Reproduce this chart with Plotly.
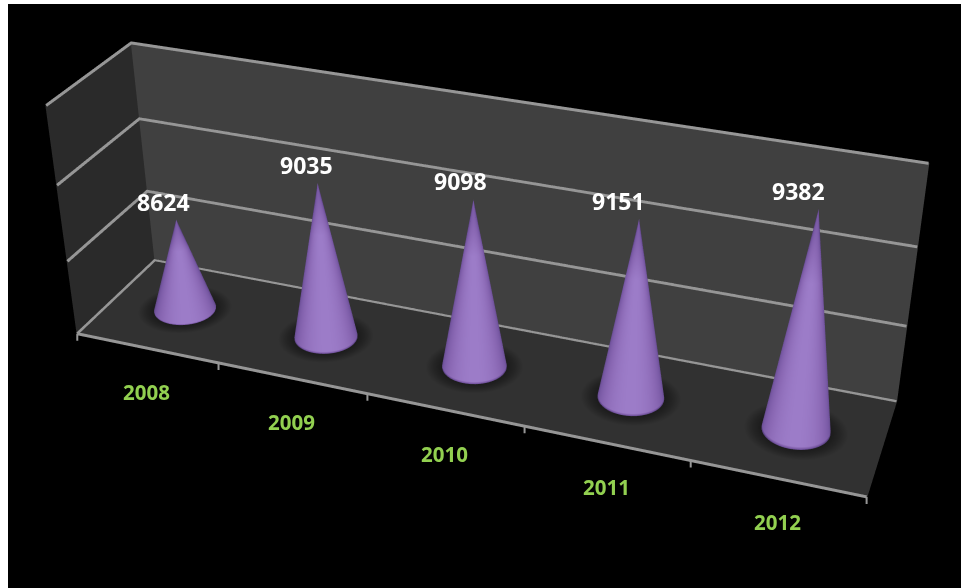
import numpy as np
import plotly.graph_objects as go

years = [2008, 2009, 2010, 2011, 2012]
values = [8624, 9035, 9098, 9151, 9382]
z_ticks = [8000, 8500, 9000, 9500]
value_shift = [-13, -11, -13, -21, -20]

# Box proportions and viewpoint of the 3D scene
ASPECT = dict(x=3.0, y=0.6026, z=0.9505)
EYE = np.array([2.0027, -5.3134, 3.1975])
CENTER = np.array([-1.3765, 3.8362, -2.5908])
UP = np.array([-0.1742, 0.4797, 0.86])
FOVY = 0.3159

X0, X1, Y0, Y1 = -0.5, 4.5, -1.0, 1.0
Z0, Z1 = z_ticks[0], z_ticks[-1]
PAD = 0.004
RX = 0.2
RY = RX * (ASPECT["x"] / 5) / (ASPECT["y"] / 2)
GRID = "#969696"
FLOOR = "#313131"

fig = go.Figure()
flat = dict(ambient=1, diffuse=0, specular=0, roughness=1, fresnel=0)
cone_scale = [[0, "#36264f"], [.45, "#5a4280"], [.62, "#7657a2"], [.82, "#8b69b5"], [1, "#9c7cc8"]]
shadow_scale = [[0, "#141414"], [.6, "#181818"], [.82, "#242424"], [1, FLOOR]]
theta = np.linspace(0, 2 * np.pi, 97)
rows = np.array([0.0, 0.015, 0.7, 1.0])
row_shade = np.array([0.45, 1.0, 1.0, 0.6])

for i, v in enumerate(values):
    a0 = np.arctan2(EYE[1], EYE[0] - (i - 2) * ASPECT["x"] / 5)
    T, R = np.meshgrid(theta, np.linspace(0, 1.5, 13))
    fig.add_trace(go.Surface(x=i + RX * R * np.cos(T), y=RY * R * np.sin(T), z=np.full(T.shape, Z0 + 2.0),
        surfacecolor=R, colorscale=shadow_scale, cmin=0, cmax=1.5, showscale=False, lighting=flat, hoverinfo="skip"))
    T, S = np.meshgrid(theta, rows)
    shade = (np.cos(T - a0) + 1) * row_shade[:, None] - 1
    fig.add_trace(go.Surface(x=i + RX * (1 - S) * np.cos(T), y=RY * (1 - S) * np.sin(T), z=Z0 + (v - Z0) * S,
        surfacecolor=shade, colorscale=cone_scale, cmin=-1, cmax=1, showscale=False, lighting=flat, hoverinfo="skip"))

# Gridlines around the two walls, and the front edge of the floor
for z in z_ticks:
    fig.add_trace(go.Scatter3d(x=[X0, X0, X1], y=[Y0, Y1, Y1], z=[z, z, z], mode="lines",
        line=dict(color=GRID, width=6), hoverinfo="skip", showlegend=False))
fig.add_trace(go.Scatter3d(x=[X0, X1], y=[Y0, Y0], z=[Z0, Z0], mode="lines",
    line=dict(color=GRID, width=6), hoverinfo="skip", showlegend=False))

notes = []
for i, (yr, v) in enumerate(zip(years, values)):
    notes.append(dict(x=i, y=0, z=v, text="<b>%d</b>" % v, showarrow=False, xshift=value_shift[i], yshift=18,
                      font=dict(family="Open Sans", size=23, color="white")))
    notes.append(dict(x=i, y=Y0, z=Z0, text="<b>%d</b>" % yr, showarrow=False, yshift=-44,
                      font=dict(family="Open Sans", size=20.5, color="#92d050")))
# Category boundary ticks hang straight down from the floor edge
for k in range(len(years) + 1):
    notes.append(dict(x=k - .5, y=Y0, z=Z0, text=" ", showarrow=True, ax=0, ay=8, arrowhead=0, arrowwidth=2,
                      arrowcolor=GRID, standoff=0, borderpad=0, font=dict(size=1)))

plain = dict(showgrid=False, showticklabels=False, title="", zeroline=False, showspikes=False, showline=False, ticks="")
fig.update_layout(width=961, height=588, margin=dict(l=0, r=0, t=0, b=0), paper_bgcolor="white", showlegend=False,
    scene=dict(domain=dict(x=[8 / 961, 1], y=[0, 1 - 4 / 588]), bgcolor="black",
        xaxis=dict(plain, range=[X0 - PAD, X1 + PAD], backgroundcolor="#2a2a2a", showbackground=True),
        yaxis=dict(plain, range=[Y0 - PAD, Y1 + PAD], backgroundcolor="#404040", showbackground=True),
        zaxis=dict(plain, range=[Z0 - 1, Z1 + 1], backgroundcolor=FLOOR, showbackground=True),
        aspectmode="manual", aspectratio=ASPECT, annotations=notes,
        camera=dict(eye=dict(x=EYE[0], y=EYE[1], z=EYE[2]), center=dict(x=CENTER[0], y=CENTER[1], z=CENTER[2]),
                    up=dict(x=UP[0], y=UP[1], z=UP[2]), projection=dict(type="perspective"))))

# Narrow the 3D lens: the scene has no layout option for its field of view.
lens = "var g=document.getElementById('{plot_id}');var s=g._fullLayout.scene._scene;s.glplot.fovy=%f;s.glplot.redraw();" % FOVY
fig.write_html("out.html", config=dict(displayModeBar=False), post_script=lens)
